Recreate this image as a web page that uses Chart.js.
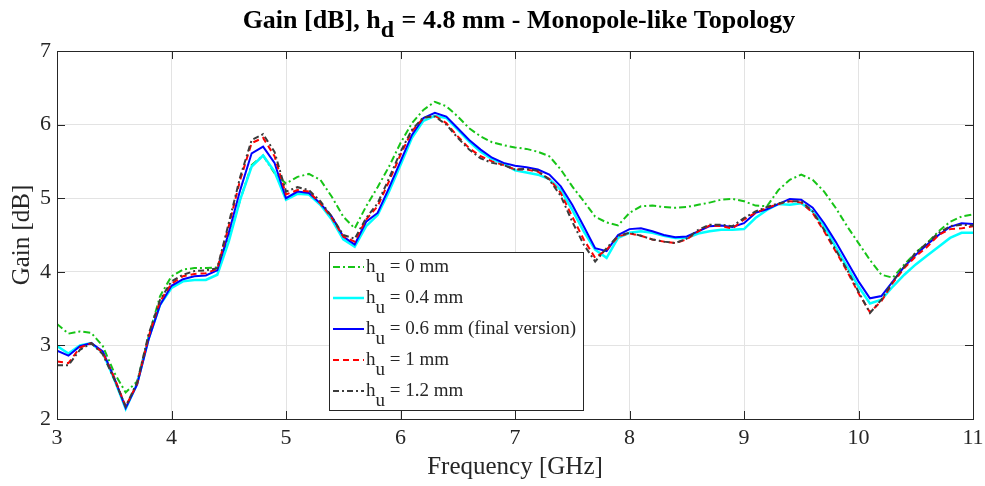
<!DOCTYPE html>
<html><head><meta charset="utf-8">
<script src="https://cdn.jsdelivr.net/npm/chart.js@4.4.0/dist/chart.umd.min.js"></script>
<style>html,body{margin:0;padding:0;background:#fff;}canvas{display:block;}</style>
</head><body>
<canvas id="c" width="985" height="486"></canvas>
<script>
const freqGHz = [3.0,3.1,3.2,3.3,3.4,3.5,3.6,3.7,3.8,3.9,4.0,4.1,4.2,4.3,4.4,4.5,4.6,4.7,4.8,4.9,
  5.0,5.1,5.2,5.3,5.4,5.5,5.6,5.7,5.8,5.9,6.0,6.1,6.2,6.3,6.4,6.5,6.6,6.7,6.8,6.9,
  7.0,7.1,7.2,7.3,7.4,7.5,7.6,7.7,7.8,7.9,8.0,8.1,8.2,8.3,8.4,8.5,8.6,8.7,8.8,8.9,
  9.0,9.1,9.2,9.3,9.4,9.5,9.6,9.7,9.8,9.9,10.0,10.1,10.2,10.3,10.4,10.5,10.6,10.7,10.8,10.9,11.0];

const gainHu0 = [3.29,3.16,3.19,3.17,2.99,2.63,2.36,2.51,3.12,3.67,3.94,4.03,4.05,4.05,4.06,4.44,4.98,5.45,5.58,5.34,
  5.20,5.29,5.33,5.25,5.02,4.75,4.59,4.89,5.15,5.43,5.75,6.02,6.20,6.31,6.25,6.11,5.95,5.84,5.76,5.72,
  5.69,5.67,5.63,5.57,5.39,5.16,4.96,4.75,4.67,4.63,4.80,4.89,4.90,4.88,4.87,4.88,4.91,4.94,4.98,4.99,
  4.96,4.90,4.89,5.11,5.25,5.32,5.25,5.09,4.87,4.62,4.39,4.16,3.96,3.92,4.10,4.26,4.39,4.55,4.68,4.75,4.78];

const gainHu04 = [2.99,2.89,3.00,3.03,2.90,2.54,2.14,2.48,3.09,3.55,3.78,3.87,3.89,3.89,3.96,4.41,4.98,5.43,5.58,5.36,
  4.98,5.06,5.05,4.91,4.71,4.44,4.34,4.62,4.77,5.09,5.45,5.82,6.05,6.12,6.09,5.93,5.77,5.63,5.53,5.47,
  5.38,5.35,5.32,5.26,5.11,4.84,4.55,4.30,4.19,4.46,4.53,4.55,4.53,4.49,4.46,4.46,4.52,4.55,4.57,4.57,
  4.58,4.73,4.84,4.92,4.91,4.93,4.82,4.62,4.34,4.07,3.80,3.57,3.62,3.80,3.96,4.10,4.22,4.34,4.46,4.53,4.53];

const gainHu06 = [2.93,2.86,2.99,3.03,2.92,2.56,2.15,2.47,3.08,3.55,3.81,3.90,3.94,3.95,4.02,4.53,5.11,5.61,5.70,5.48,
  5.00,5.09,5.07,4.93,4.75,4.48,4.37,4.68,4.80,5.14,5.50,5.86,6.09,6.16,6.11,5.95,5.79,5.66,5.55,5.48,
  5.44,5.42,5.39,5.32,5.16,4.91,4.62,4.32,4.28,4.50,4.58,4.59,4.55,4.50,4.47,4.48,4.55,4.62,4.63,4.61,
  4.66,4.80,4.85,4.92,4.99,4.98,4.87,4.66,4.41,4.14,3.87,3.64,3.67,3.87,4.07,4.23,4.37,4.50,4.61,4.66,4.65];

const gainHu1 = [2.78,2.76,2.97,3.03,2.90,2.56,2.17,2.48,3.12,3.60,3.84,3.94,3.97,3.98,4.04,4.62,5.25,5.75,5.82,5.57,
  5.05,5.11,5.09,4.93,4.73,4.48,4.41,4.71,4.89,5.23,5.59,5.91,6.09,6.12,6.02,5.84,5.68,5.57,5.50,5.45,
  5.39,5.39,5.36,5.26,5.07,4.75,4.44,4.19,4.30,4.48,4.52,4.49,4.44,4.41,4.39,4.44,4.55,4.63,4.62,4.59,
  4.71,4.80,4.87,4.92,4.96,4.94,4.80,4.55,4.28,4.01,3.71,3.45,3.60,3.85,4.05,4.21,4.34,4.50,4.58,4.59,4.62];

const gainHu12 = [2.73,2.73,2.94,3.03,2.88,2.54,2.17,2.50,3.15,3.62,3.87,3.96,4.01,4.02,4.05,4.66,5.29,5.79,5.87,5.63,
  5.09,5.15,5.11,4.96,4.75,4.50,4.45,4.73,4.93,5.27,5.63,5.93,6.10,6.11,6.00,5.82,5.66,5.54,5.48,5.45,
  5.39,5.40,5.37,5.25,5.03,4.68,4.37,4.14,4.32,4.49,4.53,4.49,4.44,4.41,4.39,4.45,4.57,4.64,4.64,4.62,
  4.73,4.82,4.88,4.93,4.96,4.96,4.82,4.57,4.30,4.03,3.73,3.44,3.62,3.87,4.07,4.26,4.39,4.53,4.62,4.64,4.63];

const seriesLabels = ['= 0 mm', '= 0.4 mm', '= 0.6 mm (final version)', '= 1 mm', '= 1.2 mm'];
const xTicks = [3,4,5,6,7,8,9,10,11];
const yTicks = [2,3,4,5,6,7];
const titleParts = ['Gain [dB], h', 'd', ' = 4.8 mm - Monopole-like Topology'];
const xTitle = 'Frequency [GHz]';
const yTitle = 'Gain [dB]';

const FONT = "'Liberation Serif', 'Times New Roman', serif";
const AX = '#262626';
const styles = [
  {color:'#17c417', dash:[7,3,2,3], width:2},
  {color:'#00ffff', dash:[], width:2.5},
  {color:'#0000ff', dash:[], width:2},
  {color:'#ff0000', dash:[6,4], width:2},
  {color:'#3c3c3c', dash:[6,3,2,3], width:2}
];
const series = [gainHu0, gainHu04, gainHu06, gainHu1, gainHu12];

const datasets = series.map((vals, i) => ({
  label: 'h_u ' + seriesLabels[i],
  data: freqGHz.map((f, j) => ({x: f, y: vals[j]})),
  borderColor: styles[i].color,
  borderDash: styles[i].dash,
  borderWidth: styles[i].width,
  pointRadius: 0,
  tension: 0,
  fill: false,
  order: series.length - i
}));

const decor = {
  id: 'decor',
  afterDraw(chart) {
    const {ctx, chartArea: a, scales: {x, y}} = chart;
    ctx.save();
    ctx.setLineDash([]);
    ctx.strokeStyle = AX; ctx.lineWidth = 1;
    const L = 8;
    ctx.beginPath();
    xTicks.forEach(v => {
      const px = Math.round(x.getPixelForValue(v)) + 0.5;
      ctx.moveTo(px, a.bottom); ctx.lineTo(px, a.bottom - L);
      ctx.moveTo(px, a.top); ctx.lineTo(px, a.top + L);
    });
    yTicks.forEach(v => {
      const py = Math.round(y.getPixelForValue(v)) + 0.5;
      ctx.moveTo(a.left, py); ctx.lineTo(a.left + L, py);
      ctx.moveTo(a.right, py); ctx.lineTo(a.right - L, py);
    });
    ctx.stroke();
    ctx.strokeRect(Math.round(a.left) + 0.5, Math.round(a.top) + 0.5,
                   Math.round(a.right - a.left), Math.round(a.bottom - a.top));

    // legend
    const lx = 329, ly = 252, lw = 254, lh = 158;
    ctx.fillStyle = '#fff'; ctx.fillRect(lx, ly, lw, lh);
    ctx.strokeStyle = AX; ctx.strokeRect(lx + 0.5, ly + 0.5, lw, lh);
    ctx.font = '19px ' + FONT;
    ctx.textBaseline = 'alphabetic';
    ctx.textAlign = 'left';
    series.forEach((s, i) => {
      const base = 272 + i * 31;
      ctx.save();
      ctx.strokeStyle = styles[i].color;
      ctx.lineWidth = styles[i].width;
      ctx.setLineDash(styles[i].dash);
      ctx.beginPath();
      ctx.moveTo(333, base - 5); ctx.lineTo(364, base - 5);
      ctx.stroke();
      ctx.restore();
      ctx.fillStyle = AX;
      let tx = 366;
      ctx.fillText('h', tx, base); tx += ctx.measureText('h').width;
      ctx.fillText('u', tx, base + 10); tx += ctx.measureText('u').width;
      ctx.fillText(' ' + seriesLabels[i], tx, base);
    });

    // title
    ctx.font = 'bold 26px ' + FONT;
    ctx.fillStyle = '#000';
    const widths = titleParts.map(t => ctx.measureText(t).width);
    let tx = 519 - (widths[0] + widths[1] + widths[2]) / 2;
    ctx.fillText(titleParts[0], tx, 28); tx += widths[0];
    ctx.font = 'bold 24px ' + FONT;
    ctx.fillText(titleParts[1], tx, 37); tx += widths[1];
    ctx.font = 'bold 26px ' + FONT;
    ctx.fillText(titleParts[2], tx, 28);
    ctx.restore();
  }
};

const bg = {
  id: 'bg',
  beforeDraw(chart) {
    const c = chart.ctx; c.save(); c.fillStyle = '#fff';
    c.fillRect(0, 0, chart.width, chart.height); c.restore();
  }
};

new Chart(document.getElementById('c'), {
  type: 'line',
  data: {datasets},
  options: {
    responsive: false, animation: false, devicePixelRatio: 1,
    layout: {padding: {top: 51, right: 12, left: 0, bottom: 0}},
    plugins: {legend: {display: false}, title: {display: false}, tooltip: {enabled: false}},
    scales: {
      x: {
        type: 'linear', min: 3, max: 11,
        afterBuildTicks: s => { s.ticks = xTicks.map(v => ({value: v})); },
        ticks: {font: {family: FONT, size: 22}, color: AX, padding: 6, maxRotation: 0, autoSkip: false},
        grid: {color: '#e3e3e3', drawTicks: false, lineWidth: 1},
        border: {display: true, color: AX},
        title: {display: true, text: xTitle, font: {family: FONT, size: 25}, color: AX, padding: {top: 0, bottom: 4}},
        afterFit: s => { s.height = 67; s.paddingLeft = 0; s.paddingRight = 0; }
      },
      y: {
        type: 'linear', min: 2, max: 7,
        afterBuildTicks: s => { s.ticks = yTicks.map(v => ({value: v})); },
        ticks: {font: {family: FONT, size: 22}, color: AX, padding: 6, autoSkip: false},
        grid: {color: '#e3e3e3', drawTicks: false, lineWidth: 1},
        border: {display: true, color: AX},
        title: {display: true, text: yTitle, font: {family: FONT, size: 25}, color: AX, padding: {top: 7, bottom: 0}},
        afterFit: s => { s.width = 57; s.paddingTop = 0; s.paddingBottom = 0; }
      }
    }
  },
  plugins: [bg, decor]
});
</script>
</body></html>
